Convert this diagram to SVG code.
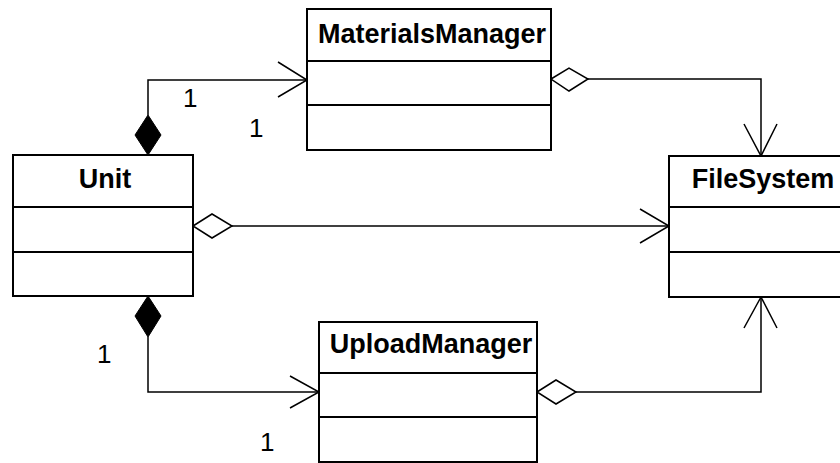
<svg xmlns="http://www.w3.org/2000/svg" width="840" height="463" viewBox="0 0 840 463">
<style>
.box{fill:#fff;stroke:#000;stroke-width:2}
.div{stroke:#000;stroke-width:2}
.name{font-family:"Liberation Sans",Arial,sans-serif;font-weight:bold;font-size:27px;text-anchor:middle;fill:#000}
.mult{font-family:"Liberation Sans",Arial,sans-serif;font-size:26px;fill:#000}
.ln{fill:none;stroke:#000;stroke-width:1.5}
.open{fill:#fff;stroke:#000;stroke-width:1.5}
.fill{fill:#000;stroke:#000;stroke-width:1}
</style>
<rect width="840" height="463" fill="#fff"/>
<g id="connectors">
  <polyline class="ln" points="148,115 148,80 307,80"/>
  <polygon class="fill" points="148,115 161,135 148,155 135,135"/>
  <polyline class="ln" points="278,62 307,80 278,97"/>
  <polyline class="ln" points="148,337 148,392 319,392"/>
  <polygon class="fill" points="148,296 161,316 148,337 135,316"/>
  <polyline class="ln" points="290,376 319,392 290,408"/>
  <line class="ln" x1="232" y1="226" x2="669" y2="226"/>
  <polygon class="open" points="193,226 212,214 232,226 212,238"/>
  <polyline class="ln" points="640,209 669,226 640,243"/>
  <polyline class="ln" points="588,79 761,79 761,156"/>
  <polygon class="open" points="551,79 569,68 588,79 569,91"/>
  <polyline class="ln" points="744,124 761,156 777,124"/>
  <polyline class="ln" points="576,392 761,392 761,297"/>
  <polygon class="open" points="537,392 556,380 576,392 556,404"/>
  <polyline class="ln" points="744,328 761,297 777,328"/>
  <text class="mult" x="183" y="107">1</text>
  <text class="mult" x="249" y="137">1</text>
  <text class="mult" x="97" y="363">1</text>
  <text class="mult" x="260" y="451">1</text>
</g>
<g id="MaterialsManager">
  <rect class="box" x="307" y="9" width="244" height="141"/>
  <line class="div" x1="307" y1="61" x2="551" y2="61"/>
  <line class="div" x1="307" y1="105" x2="551" y2="105"/>
  <text class="name" x="432" y="43">MaterialsManager</text>
</g>
<g id="Unit">
  <rect class="box" x="13" y="155" width="180" height="141"/>
  <line class="div" x1="13" y1="207" x2="193" y2="207"/>
  <line class="div" x1="13" y1="252" x2="193" y2="252"/>
  <text class="name" x="105" y="188">Unit</text>
</g>
<g id="FileSystem">
  <rect class="box" x="669" y="156" width="182" height="141"/>
  <line class="div" x1="669" y1="207" x2="851" y2="207"/>
  <line class="div" x1="669" y1="252" x2="851" y2="252"/>
  <text class="name" x="763" y="188">FileSystem</text>
</g>
<g id="UploadManager">
  <rect class="box" x="319" y="322" width="218" height="140"/>
  <line class="div" x1="319" y1="373" x2="537" y2="373"/>
  <line class="div" x1="319" y1="417" x2="537" y2="417"/>
  <text class="name" x="431" y="353">UploadManager</text>
</g>
</svg>
